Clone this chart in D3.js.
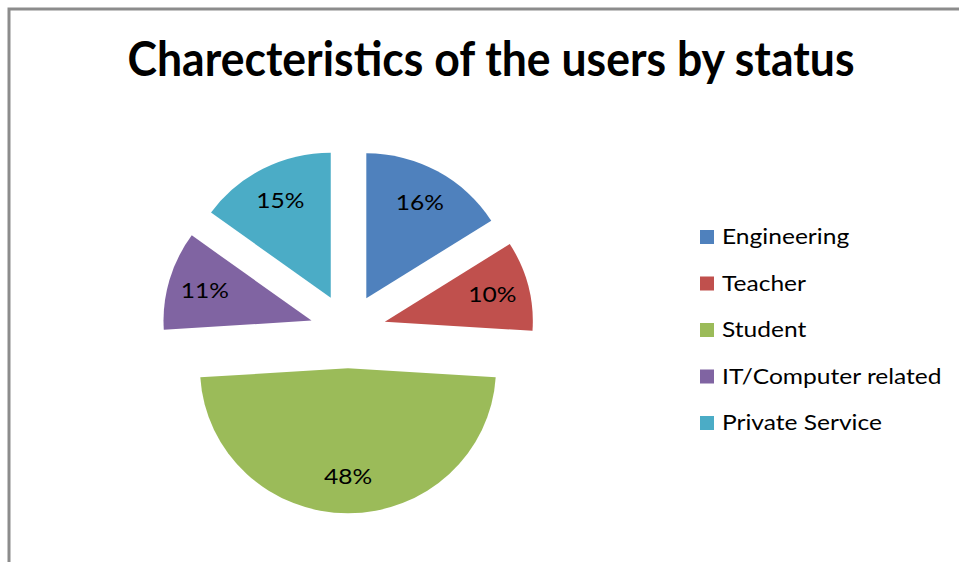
<!DOCTYPE html>
<html>
<head>
<meta charset="utf-8">
<script src="https://cdn.jsdelivr.net/npm/d3@7"></script>
<style>
  body { margin: 0; background: #fff; }
</style>
</head>
<body>
<div id="chart"></div>
<script>
const categories = ["Engineering", "Teacher", "Student", "IT/Computer related", "Private Service"];
const values = [16, 10, 48, 11, 15];
const colors = ["#4F81BD", "#C0504D", "#9BBB59", "#8064A2", "#4BACC6"];
const title = "Charecteristics of the users by status";

const width = 959;
const height = 562;
const cx = 348, cy = 331;
const radius = 148;
const squash = 0.98; // the reference pie is a touch wider than tall
const explode = 38;
const textStretch = 1.17; // the reference text is set wide

const svg = d3.select("#chart")
    .append("svg")
    .attr("width", width)
    .attr("height", height);

// chart area frame (only top and left edges show in the picture)
svg.append("rect")
    .attr("x", 9)
    .attr("y", 9)
    .attr("width", 1000)
    .attr("height", 600)
    .attr("fill", "#fff")
    .attr("stroke", "#8c8c8c")
    .attr("stroke-width", 3);

svg.append("text")
    .attr("x", 491)
    .attr("y", 76)
    .attr("text-anchor", "middle")
    .attr("font-family", "Lato, sans-serif")
    .attr("font-weight", "bold")
    .attr("font-size", 48)
    .attr("textLength", 727)
    .attr("lengthAdjust", "spacingAndGlyphs")
    .attr("fill", "#000")
    .text(title);

const pie = d3.pie().sort(null).value(d => d)(values);

const arc = d3.arc().innerRadius(0).outerRadius(radius);
const labelArc = d3.arc().innerRadius(radius * 0.75).outerRadius(radius * 0.75);

const offset = d => {
    const a = (d.startAngle + d.endAngle) / 2;
    return [Math.sin(a) * explode, -Math.cos(a) * explode * squash];
};

const g = svg.append("g")
    .attr("transform", `translate(${cx}, ${cy})`);

g.selectAll("path")
    .data(pie)
    .enter()
    .append("path")
    .attr("transform", d => {
        const [dx, dy] = offset(d);
        return `translate(${dx}, ${dy}) scale(1, ${squash})`;
    })
    .attr("d", arc)
    .attr("fill", (d, i) => colors[i]);

g.selectAll("text.pct")
    .data(pie)
    .enter()
    .append("text")
    .attr("class", "pct")
    .attr("transform", d => {
        const x = offset(d)[0] + labelArc.centroid(d)[0];
        const y = offset(d)[1] + labelArc.centroid(d)[1] * squash;
        return `translate(${x}, ${y}) scale(${textStretch}, 1)`;
    })
    .attr("dy", "0.35em")
    .attr("text-anchor", "middle")
    .attr("font-family", "Lato, sans-serif")
    .attr("font-size", 21)
    .attr("fill", "#000")
    .text(d => d.data + "%");

const legend = svg.append("g")
    .attr("transform", "translate(700, 237)");

const item = legend.selectAll("g")
    .data(categories)
    .enter()
    .append("g")
    .attr("transform", (d, i) => `translate(0, ${i * 46.5})`);

item.append("rect")
    .attr("x", 0)
    .attr("y", -7)
    .attr("width", 14)
    .attr("height", 14)
    .attr("fill", (d, i) => colors[i]);

item.append("text")
    .attr("transform", `translate(22, 0) scale(${textStretch}, 1)`)
    .attr("dy", "0.35em")
    .attr("font-family", "Lato, sans-serif")
    .attr("font-size", 21)
    .attr("fill", "#000")
    .text(d => d);
</script>
</body>
</html>
